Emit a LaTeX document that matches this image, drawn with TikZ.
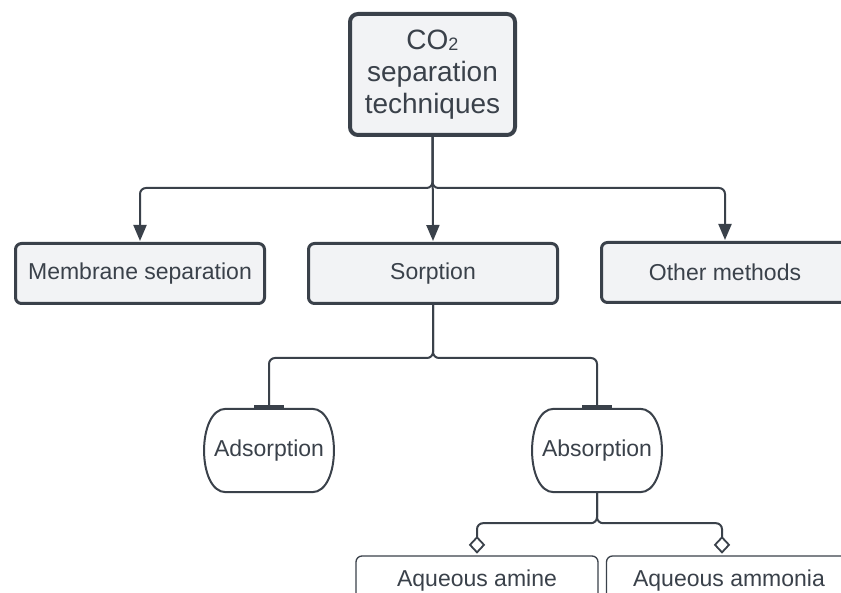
\documentclass[tikz,border=0pt]{standalone}
\usepackage{fontspec}
\setmainfont{Liberation Sans}
\usetikzlibrary{arrows.meta,calc}
\definecolor{ink}{RGB}{58,65,74}
\definecolor{boxfill}{RGB}{242,243,245}
\begin{document}
\begin{tikzpicture}[x=1pt,y=-1pt,
  every node/.style={text=ink, font=\fontsize{23}{27}\selectfont, inner sep=0pt},
  topbox/.style={draw=ink, fill=boxfill, line width=4pt, rounded corners=8pt,
    minimum width=165pt, minimum height=121pt, align=center,
    font=\fontsize{28}{32}\selectfont},
  midbox/.style={draw=ink, fill=boxfill, line width=3pt, rounded corners=6pt,
    minimum width=249pt, minimum height=60pt},
  pillbox/.style={minimum width=130pt, minimum height=83pt},
  leafbox/.style={draw=ink, fill=white, line width=1.3pt, rounded corners=6pt,
    minimum height=50pt},
  conn/.style={draw=ink, line width=2pt, rounded corners=6pt},
  arr/.style={conn, -{Triangle[length=16pt,width=13pt]}, shorten >=1pt},
  bar/.style={conn, -{Rectangle[length=4pt,width=30pt]}},
  dia/.style={conn, shorten >=18pt},
  diamark/.style={draw=ink, fill=white, line width=1.8pt, sharp corners}
]
\clip (0,0) rectangle (841,593);

\node[topbox] (top) at (432.5,74.5) {CO{\fontsize{18}{18}\selectfont\raisebox{-1pt}{2}}\\separation\\techniques};

\node[midbox] (mem) at (140,273.5) {Membrane separation};
\node[midbox] (sorp) at (433,273.5) {Sorption};
\node[midbox, minimum width=247pt] (oth) at (725,272.5) {Other methods};

\node[pillbox] (ad) at (269,450.5) {Adsorption};
\node[pillbox] (ab) at (597,450.5) {Absorption};

\node[leafbox, minimum width=242pt] (amine) at (477,581) {Aqueous amine};
\node[leafbox, minimum width=245pt] (amm) at (729,581) {Aqueous ammonia};

\foreach \n in {ad,ab}{
  \draw[draw=ink, line width=2pt]
    ([xshift=22pt]\n.north west) -- ([xshift=-22pt]\n.north east)
    .. controls ([xshift=7pt]\n.north east) and ([xshift=7pt]\n.south east) ..
    ([xshift=-22pt]\n.south east) -- ([xshift=22pt]\n.south west)
    .. controls ([xshift=-7pt]\n.south west) and ([xshift=-7pt]\n.north west) ..
    cycle;
}

\draw[arr] (top.south) -- ++(0,51) -| (mem.north);
\draw[arr] (top.south) -- ++(0,51) -| (oth.north);
\draw[arr] (top.south) -- (sorp.north);

\draw[bar] (sorp.south) -- ++(0,53) -| (ad.north);
\draw[bar] (sorp.south) -- ++(0,53) -| (ab.north);

\draw[dia] (ab.south) -- ++(0,31) -| (amine.north);
\draw[dia] (ab.south) -- ++(0,31) -| ([xshift=-7pt]amm.north);
\draw[diamark] ([yshift=3pt]amine.north) -- ++(7,-7.5) -- ++(-7,-7.5) -- ++(-7,7.5) -- cycle;
\draw[diamark] ([xshift=-7pt,yshift=3pt]amm.north) -- ++(7,-7.5) -- ++(-7,-7.5) -- ++(-7,7.5) -- cycle;
\end{tikzpicture}
\end{document}
